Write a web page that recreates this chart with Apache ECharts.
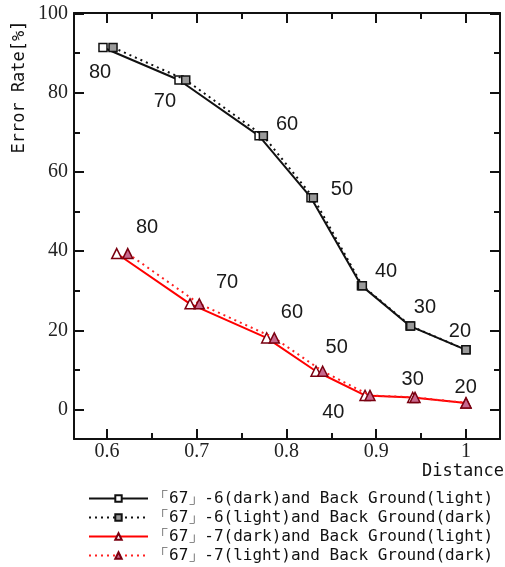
<!DOCTYPE html>
<html>
<head>
<meta charset="utf-8">
<script src="https://cdn.jsdelivr.net/npm/echarts@6/dist/echarts.min.js"></script>
<style>html,body{margin:0;padding:0;background:#fff}#c{width:505px;height:567px}</style>
</head>
<body>
<div id="c"></div>
<script>
// ---- data ----
const conditions = [80, 70, 60, 50, 40, 30, 20];
const s6darkX  = [0.5955, 0.6802, 0.7694, 0.8273, 0.8835, 0.9376, 1.0];
const s6darkY  = [91.4, 83.2, 69.1, 53.5, 31.3, 21.1, 15.1];
const s6lightX = [0.6067, 0.6877, 0.7742, 0.8299, 0.8845, 0.9384, 1.0];
const s6lightY = [91.4, 83.2, 69.1, 53.5, 31.3, 21.1, 15.1];
const s7darkX  = [0.6108, 0.6925, 0.7779, 0.8329, 0.8875, 0.9406, 1.0];
const s7darkY  = [39.4, 26.7, 18.1, 9.7, 3.6, 3.1, 1.7];
const s7lightX = [0.6231, 0.7028, 0.7864, 0.8403, 0.8930, 0.9432, 1.0];
const s7lightY = [39.4, 26.7, 18.1, 9.7, 3.6, 3.1, 1.7];
// condition annotations (data coordinates)
const lab6X = [0.5922, 0.6646, 0.8006, 0.8618, 0.9109, 0.9543, 0.9933];
const lab6Y = [85.0, 77.7, 71.9, 55.5, 34.8, 25.7, 19.7];
const lab7X = [0.6446, 0.7337, 0.8061, 0.8559, 0.8521, 0.9406, 0.9997];
const lab7Y = [45.9, 32.0, 24.5, 15.8, -0.8, 7.6, 5.5];
const xMajor = [0.6, 0.7, 0.8, 0.9, 1.0];
const xMinor = [0.65, 0.75, 0.85, 0.95];
const yMajor = [0, 20, 40, 60, 80, 100];
const yMinor = [10, 30, 50, 70, 90];
const seriesNames = [
  '「67」-6(dark)and Back Ground(light)',
  '「67」-6(light)and Back Ground(dark)',
  '「67」-7(dark)and Back Ground(light)',
  '「67」-7(light)and Back Ground(dark)'
];
const xRange = [0.5632, 1.0379];
const yRange = [-7.4, 100.1];

const zip = (xs, ys) => xs.map((x, i) => [x, ys[i]]);
const mono = "'DejaVu Sans Mono', 'Liberation Mono', monospace";

function mkAxis(kind, pos, ticks, len, showLine, showLabel) {
  const r = kind === 'x' ? xRange : yRange;
  return {
    type: 'value', position: pos, min: r[0], max: r[1],
    axisLine: {show: showLine, onZero: false, lineStyle: {color: '#111', width: 2}},
    axisTick: {show: true, inside: true, length: len, customValues: ticks,
               lineStyle: {color: '#111', width: 2}},
    axisLabel: showLabel ? {
      show: true, customValues: ticks, margin: kind === 'x' ? 3 : 6,
      fontFamily: "'Liberation Serif', serif", fontSize: 20, color: '#222',
      formatter: v => kind === 'x' ? (Math.abs(v - 1) < 1e-9 ? '1' : v.toFixed(1)) : String(Math.round(v))
    } : {show: false},
    splitLine: {show: false}
  };
}

const labelStyle = {
  show: true, position: 'inside', formatter: p => String(p.data[2]),
  fontFamily: "'Liberation Sans Narrow', 'Liberation Sans', Arial, sans-serif",
  fontSize: 20, color: '#1a1a1a', opacity: 1
};

const chart = echarts.init(document.getElementById('c'), null, {renderer: 'canvas'});
chart.setOption({
  animation: false,
  backgroundColor: '#fff',
  grid: {left: 74, right: 5, top: 13, bottom: 128, containLabel: false},
  xAxis: [
    mkAxis('x', 'bottom', xMajor, 10, true, true),
    mkAxis('x', 'bottom', xMinor, 6, false, false),
    mkAxis('x', 'top', xMajor, 10, true, false),
    mkAxis('x', 'top', xMinor, 6, false, false)
  ],
  yAxis: [
    mkAxis('y', 'left', yMajor, 10, true, true),
    mkAxis('y', 'left', yMinor, 6, false, false),
    mkAxis('y', 'right', yMajor, 10, true, false),
    mkAxis('y', 'right', yMinor, 6, false, false)
  ],
  legend: {
    orient: 'vertical', left: 88, top: 489, padding: 0,
    itemWidth: 59, itemHeight: 8, itemGap: 0,
    data: seriesNames,
    textStyle: {fontFamily: mono, fontSize: 16, color: '#111', lineHeight: 19, padding: [0, 0, 0, 0]}
  },
  graphic: [
    {type: 'text', x: 20, y: 87, rotation: Math.PI / 2,
     style: {text: 'Error Rate[%]', font: '17px ' + mono, fill: '#111', align: 'center', verticalAlign: 'middle'}},
    {type: 'text', x: 463, y: 472,
     style: {text: 'Distance', font: '17px ' + mono, fill: '#111', align: 'center', verticalAlign: 'middle'}}
  ],
  series: [
    {name: seriesNames[0], type: 'line', data: zip(s6darkX, s6darkY),
     symbol: 'rect', symbolSize: 8,
     lineStyle: {color: '#111', width: 2},
     itemStyle: {color: '#fff', borderColor: '#111', borderWidth: 1.5}, z: 3},
    {name: seriesNames[1], type: 'line', data: zip(s6lightX, s6lightY),
     symbol: 'rect', symbolSize: 8,
     lineStyle: {color: '#111', width: 2, type: [2, 4]},
     itemStyle: {color: '#9a9a9a', borderColor: '#111', borderWidth: 1.5}, z: 4},
    {name: seriesNames[2], type: 'line', data: zip(s7darkX, s7darkY),
     symbol: 'triangle', symbolSize: 10,
     lineStyle: {color: '#ff0000', width: 2},
     itemStyle: {color: '#fff', borderColor: '#7a0010', borderWidth: 1.5}, z: 3},
    {name: seriesNames[3], type: 'line', data: zip(s7lightX, s7lightY),
     symbol: 'triangle', symbolSize: 10,
     lineStyle: {color: '#ff2020', width: 2, type: [2, 4]},
     itemStyle: {color: '#c8688e', borderColor: '#7a0010', borderWidth: 1.5}, z: 4},
    {type: 'scatter', silent: true, symbolSize: 0, itemStyle: {opacity: 1},
     data: lab6X.map((x, i) => [x, lab6Y[i], conditions[i]]), label: labelStyle},
    {type: 'scatter', silent: true, symbolSize: 0, itemStyle: {opacity: 1},
     data: lab7X.map((x, i) => [x, lab7Y[i], conditions[i]]), label: labelStyle}
  ]
});
</script>
</body>
</html>
